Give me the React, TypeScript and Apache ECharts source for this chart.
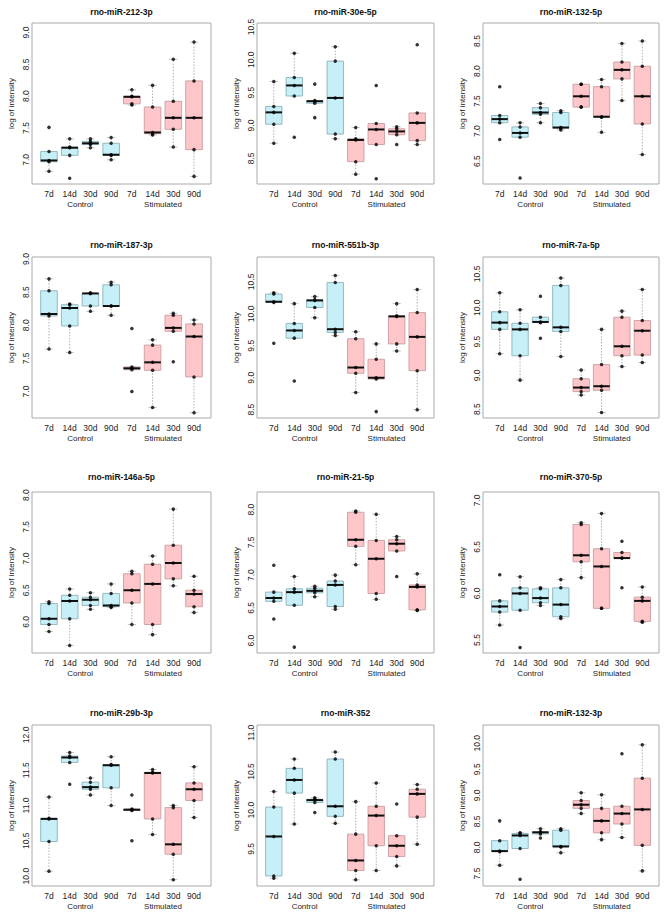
import React, { useEffect, useRef } from 'react';
import * as echarts from 'echarts';

const categories = ['7d', '14d', '30d', '90d', '7d', '14d', '30d', '90d'];
const groupLabels = ['Control', 'Stimulated'];
const groupCenters = [2.5, 6.5];
const titles = [
  'rno-miR-212-3p', 'rno-miR-30e-5p', 'rno-miR-132-5p',
  'rno-miR-187-3p', 'rno-miR-551b-3p', 'rno-miR-7a-5p',
  'rno-miR-146a-5p', 'rno-miR-21-5p', 'rno-miR-370-5p',
  'rno-miR-29b-3p', 'rno-miR-352', 'rno-miR-132-3p',
];

// each panel: 8 groups (Control 7d,14d,30d,90d, Stimulated 7d,14d,30d,90d) x 5 samples
const miR212_3p = [
  [6.82, 6.97, 6.99, 7.13, 7.51], [6.71, 7.07, 7.19, 7.2, 7.33], [7.19, 7.24, 7.26, 7.29, 7.33], [7.0, 7.07, 7.08, 7.26, 7.35],
  [7.86, 7.88, 7.99, 8.0, 8.1], [7.39, 7.41, 7.43, 7.83, 8.17], [7.2, 7.48, 7.66, 7.92, 8.58], [6.74, 7.16, 7.66, 8.24, 8.85],
];
const miR30e_5p = [
  [8.73, 9.02, 9.2, 9.29, 9.67], [8.82, 9.45, 9.61, 9.73, 10.1], [9.12, 9.34, 9.37, 9.38, 9.63], [8.8, 8.87, 9.42, 9.98, 10.2],
  [8.26, 8.45, 8.78, 8.8, 8.97], [8.19, 8.71, 8.94, 9.03, 9.61], [8.71, 8.86, 8.91, 8.95, 8.98], [8.71, 8.77, 9.04, 9.19, 10.23],
];
const miR132_5p = [
  [6.86, 7.14, 7.2, 7.26, 7.74], [6.22, 6.9, 6.97, 7.07, 7.14], [7.14, 7.28, 7.31, 7.39, 7.46], [7.02, 7.05, 7.06, 7.31, 7.34],
  [7.4, 7.4, 7.58, 7.78, 7.78], [6.98, 7.23, 7.24, 7.74, 7.86], [7.51, 7.87, 8.02, 8.15, 8.46], [6.61, 7.12, 7.58, 8.08, 8.5],
];
const miR187_3p = [
  [7.64, 8.14, 8.17, 8.52, 8.7], [7.59, 7.99, 8.26, 8.31, 8.32], [8.21, 8.29, 8.48, 8.48, 8.49], [8.15, 8.29, 8.29, 8.61, 8.65],
  [7.0, 7.33, 7.35, 7.37, 7.95], [6.76, 7.32, 7.44, 7.7, 7.78], [7.45, 7.91, 7.96, 8.15, 8.18], [6.68, 7.22, 7.83, 8.02, 8.08],
];
const miR551b_3p = [
  [9.54, 10.18, 10.19, 10.31, 10.33], [8.95, 9.62, 9.74, 9.85, 10.16], [9.94, 10.1, 10.21, 10.22, 10.27], [9.66, 9.71, 9.76, 10.49, 10.6],
  [8.77, 9.07, 9.16, 9.61, 9.72], [8.47, 8.98, 9.0, 9.29, 9.53], [9.42, 9.53, 9.96, 9.97, 10.16], [8.5, 9.11, 9.64, 10.02, 10.38],
];
const miR7a_5p = [
  [9.32, 9.68, 9.78, 9.94, 10.22], [8.93, 9.29, 9.68, 9.77, 9.97], [9.55, 9.78, 9.79, 9.86, 10.17], [9.28, 9.65, 9.71, 10.33, 10.44],
  [8.71, 8.76, 8.82, 8.95, 9.08], [8.45, 8.78, 8.84, 9.16, 9.68], [9.13, 9.29, 9.43, 9.86, 9.95], [9.19, 9.3, 9.66, 9.81, 10.27],
];
const miR146a_5p = [
  [5.85, 5.96, 6.05, 6.29, 6.32], [5.63, 6.05, 6.33, 6.42, 6.52], [6.2, 6.26, 6.35, 6.39, 6.46], [6.23, 6.24, 6.26, 6.45, 6.6],
  [5.96, 6.3, 6.5, 6.76, 6.8], [5.8, 5.96, 6.6, 6.91, 7.04], [6.57, 6.68, 6.93, 7.21, 7.78], [6.15, 6.24, 6.44, 6.5, 6.72],
];
const miR21_5p = [
  [6.33, 6.6, 6.65, 6.74, 7.15], [5.9, 6.54, 6.74, 6.79, 6.98], [6.67, 6.73, 6.76, 6.8, 6.83], [6.48, 6.52, 6.85, 6.91, 7.0],
  [7.16, 7.44, 7.54, 7.96, 7.98], [6.63, 6.72, 7.25, 7.53, 7.93], [6.98, 7.37, 7.48, 7.54, 7.59], [6.46, 6.47, 6.82, 6.85, 7.02],
];
const miR370_5p = [
  [5.66, 5.8, 5.86, 5.92, 6.2], [5.42, 5.82, 6.0, 6.06, 6.18], [5.87, 5.9, 5.95, 6.05, 6.06], [5.73, 5.75, 5.88, 6.06, 6.15],
  [6.17, 6.34, 6.41, 6.74, 6.76], [5.84, 5.84, 6.29, 6.48, 6.86], [6.06, 6.38, 6.38, 6.44, 6.56], [5.69, 5.7, 5.92, 5.96, 6.07],
];
const miR29b_3p = [
  [10.07, 10.49, 10.81, 10.82, 11.12], [11.3, 11.61, 11.68, 11.7, 11.75], [11.15, 11.23, 11.26, 11.33, 11.39], [11.0, 11.25, 11.57, 11.58, 11.69],
  [10.5, 10.93, 10.94, 10.95, 11.15], [10.59, 10.81, 11.46, 11.47, 11.51], [9.95, 10.31, 10.45, 10.97, 11.0], [10.83, 11.07, 11.23, 11.32, 11.55],
];
const miR352 = [
  [9.12, 9.15, 9.66, 10.04, 10.24], [9.82, 10.22, 10.39, 10.54, 10.66], [9.97, 10.1, 10.13, 10.14, 10.16], [9.83, 9.92, 10.05, 10.66, 10.75],
  [9.1, 9.22, 9.35, 9.69, 10.11], [9.22, 9.54, 9.93, 10.05, 10.35], [9.28, 9.4, 9.54, 9.67, 10.08], [9.56, 9.91, 10.21, 10.27, 10.33],
];
const miR132_3p = [
  [7.66, 7.92, 7.93, 8.13, 8.51], [7.39, 7.98, 8.23, 8.27, 8.28], [8.18, 8.26, 8.29, 8.3, 8.36], [7.9, 8.01, 8.02, 8.33, 8.36],
  [8.65, 8.75, 8.82, 8.9, 9.05], [8.15, 8.28, 8.51, 8.75, 9.01], [8.19, 8.45, 8.65, 8.79, 9.8], [7.55, 8.04, 8.73, 9.33, 9.97],
];
const panelData = [
  miR212_3p, miR30e_5p, miR132_5p, miR187_3p, miR551b_3p, miR7a_5p,
  miR146a_5p, miR21_5p, miR370_5p, miR29b_3p, miR352, miR132_3p,
];

const yMin = [6.62, 8.11, 6.12, 6.6, 8.37, 8.37, 5.51, 5.81, 5.36, 9.86, 9.02, 7.26];
const yMax = [9.15, 10.56, 8.8, 9.03, 10.89, 10.75, 8.05, 8.27, 7.09, 12.14, 11.1, 10.35];
const yTicks = [
  [7, 7.5, 8, 8.5, 9], [8.5, 9, 9.5, 10, 10.5], [6.5, 7, 7.5, 8, 8.5],
  [7, 7.5, 8, 8.5, 9], [8.5, 9, 9.5, 10, 10.5], [8.5, 9, 9.5, 10, 10.5],
  [6, 6.5, 7, 7.5, 8], [6, 6.5, 7, 7.5, 8], [5.5, 6, 6.5, 7],
  [10, 10.5, 11, 11.5, 12], [9.5, 10, 10.5, 11], [7.5, 8, 8.5, 9, 9.5, 10],
];

const colLeft = [32, 257, 483];
const colWidth = [179, 177, 176];
const rowTop = [23, 257, 492, 725];
const rowTitleY = [12, 245, 477, 713];
const panelHeight = 161;
const xRange = [0.18, 8.82];

const FONT = '"Liberation Sans", Arial, Helvetica, sans-serif';
const boxFill = ['#C6EFF8', '#FFC6CA'];
const boxStroke = ['#93B9C3', '#CFA3A6'];

function boxStats(vals: number[]) {
  const s = [...vals].sort((a, b) => a - b);
  const n = s.length;
  const n4 = Math.floor((n + 3) / 2) / 2;
  const d = [1, n4, (n + 1) / 2, n + 1 - n4, n];
  const q = d.map((k) => 0.5 * (s[Math.floor(k) - 1] + s[Math.ceil(k) - 1]));
  const iqr = q[3] - q[1];
  const loF = q[1] - 1.5 * iqr;
  const hiF = q[3] + 1.5 * iqr;
  const inside = s.filter((v) => v >= loF - 1e-9 && v <= hiF + 1e-9);
  return [inside[0], q[1], q[2], q[3], inside[inside.length - 1]];
}

const renderBox = (params: any, api: any) => {
  const x = api.value(0);
  const lo = api.value(1);
  const q1 = api.value(2);
  const med = api.value(3);
  const q3 = api.value(4);
  const hi = api.value(5);
  const g = api.value(6);
  const hw = api.size([0.4, 0])[0];
  const sw = hw * 0.5;
  const c1 = api.coord([x, q1]);
  const cx = c1[0];
  const y1 = c1[1];
  const y3 = api.coord([x, q3])[1];
  const ym = api.coord([x, med])[1];
  const yl = api.coord([x, lo])[1];
  const yh = api.coord([x, hi])[1];
  const wStyle = { stroke: '#9c9c9c', lineWidth: 0.8, lineDash: [1.5, 1.5] };
  const sStyle = { stroke: '#b4b4b4', lineWidth: 0.8 };
  return {
    type: 'group',
    children: [
      { type: 'line', shape: { x1: cx, y1: y3, x2: cx, y2: yh }, style: wStyle },
      { type: 'line', shape: { x1: cx, y1: y1, x2: cx, y2: yl }, style: wStyle },
      { type: 'line', shape: { x1: cx - sw, y1: yh, x2: cx + sw, y2: yh }, style: sStyle },
      { type: 'line', shape: { x1: cx - sw, y1: yl, x2: cx + sw, y2: yl }, style: sStyle },
      {
        type: 'rect',
        shape: { x: cx - hw, y: y3, width: 2 * hw, height: y1 - y3 },
        style: { fill: boxFill[g], stroke: boxStroke[g], lineWidth: 1 },
      },
      { type: 'line', shape: { x1: cx - hw, y1: ym, x2: cx + hw, y2: ym }, style: { stroke: '#111', lineWidth: 2 } },
    ],
  };
};

function buildOption() {
  const grid: any[] = [];
  const xAxis: any[] = [];
  const yAxis: any[] = [];
  const series: any[] = [];
  const graphic: any[] = [];

  panelData.forEach((panel, i) => {
    const col = i % 3;
    const row = Math.floor(i / 3);
    grid.push({
      left: colLeft[col],
      top: rowTop[row],
      width: colWidth[col],
      height: panelHeight,
      show: true,
      borderColor: '#aaaaaa',
      borderWidth: 1,
      backgroundColor: '#ffffff',
      containLabel: false,
    });
    xAxis.push({
      type: 'value',
      gridIndex: i,
      min: xRange[0],
      max: xRange[1],
      position: 'bottom',
      axisLine: { show: false },
      axisTick: { show: false },
      splitLine: { show: false },
      axisLabel: {
        customValues: categories.map((_, j) => j + 1),
        formatter: (v: number) => categories[Math.round(v) - 1] || '',
        margin: 5,
        fontSize: 8.5,
        color: '#222',
        fontFamily: FONT,
      },
    });
    xAxis.push({
      type: 'value',
      gridIndex: i,
      min: xRange[0],
      max: xRange[1],
      position: 'bottom',
      offset: 11,
      axisLine: { show: false },
      axisTick: { show: false },
      splitLine: { show: false },
      axisLabel: {
        customValues: groupCenters,
        formatter: (v: number) => (v < 4.5 ? groupLabels[0] : groupLabels[1]),
        margin: 5,
        fontSize: 8,
        color: '#222',
        fontFamily: FONT,
      },
    });
    yAxis.push({
      type: 'value',
      gridIndex: i,
      min: yMin[i],
      max: yMax[i],
      axisLine: { show: false },
      axisTick: { show: false },
      splitLine: { show: false },
      axisLabel: {
        customValues: yTicks[i],
        formatter: (v: number) => v.toFixed(1),
        rotate: 90,
        margin: 2,
        fontSize: 8.5,
        color: '#222',
        fontFamily: FONT,
      },
      name: 'log of intensity',
      nameLocation: 'middle',
      nameGap: 17,
      nameTextStyle: { fontSize: 8, color: '#222', fontFamily: FONT },
    });
    series.push({
      type: 'custom',
      xAxisIndex: i * 2,
      yAxisIndex: i,
      renderItem: renderBox,
      encode: { x: 0, y: [1, 2, 3, 4, 5] },
      data: panel.map((vals, j) => [j + 1, ...boxStats(vals), j < 4 ? 0 : 1]),
      z: 2,
      silent: true,
    });
    const pts: number[][] = [];
    panel.forEach((vals, j) => vals.forEach((v) => pts.push([j + 1, v])));
    series.push({
      type: 'scatter',
      xAxisIndex: i * 2,
      yAxisIndex: i,
      data: pts,
      symbol: 'circle',
      symbolSize: 3.5,
      itemStyle: { color: '#000' },
      z: 3,
      silent: true,
    });
    graphic.push({
      type: 'text',
      x: colLeft[col] + colWidth[col] / 2,
      y: rowTitleY[row],
      style: {
        text: titles[i],
        align: 'center',
        verticalAlign: 'middle',
        fontSize: 8.5,
        fontWeight: 'bold',
        fontFamily: FONT,
        fill: '#111',
      },
    });
  });

  return {
    animation: false,
    backgroundColor: '#ffffff',
    grid,
    xAxis,
    yAxis,
    series,
    graphic,
  };
}

export default function App() {
  const ref = useRef<HTMLDivElement>(null);
  useEffect(() => {
    document.body.style.margin = '0';
    if (!ref.current) return;
    const chart = echarts.init(ref.current, undefined, { renderer: 'svg' });
    chart.setOption(buildOption() as any);
    return () => chart.dispose();
  }, []);
  return <div ref={ref} style={{ width: 670, height: 918 }} />;
}
